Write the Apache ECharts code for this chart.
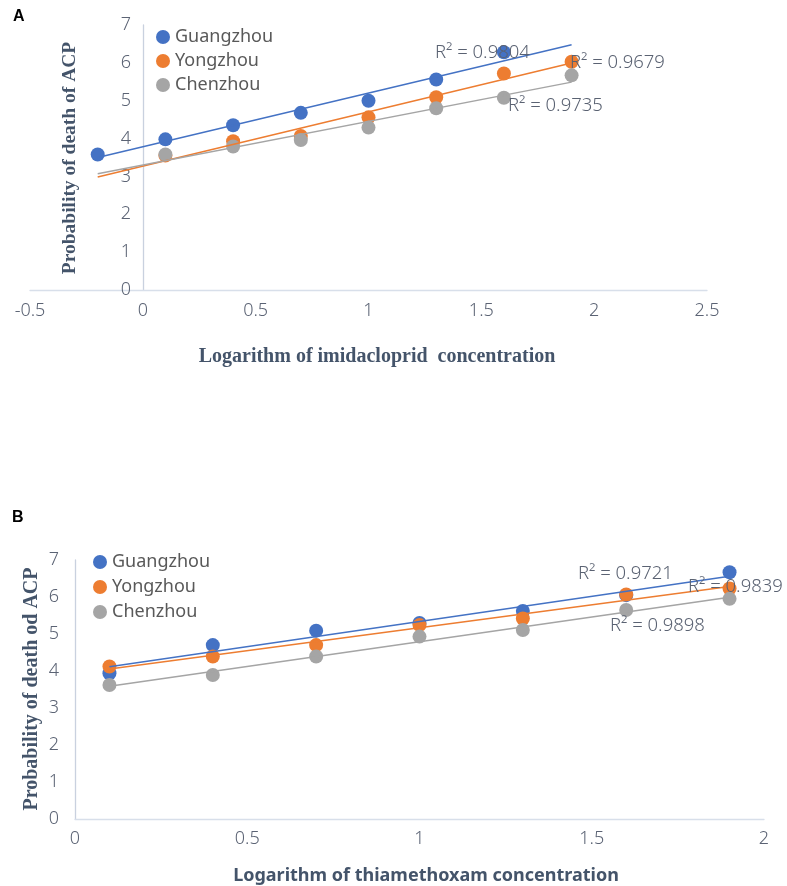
<!DOCTYPE html>
<html>
<head>
<meta charset="utf-8">
<script src="https://cdn.jsdelivr.net/npm/echarts@6/dist/echarts.min.js"></script>
<style>
  html, body { margin: 0; padding: 0; background: #fff; }
  #chart { width: 787px; height: 886px; }
</style>
</head>
<body>
<div id="chart"></div>
<script>
// Panel A: imidacloprid
const sites = ['Guangzhou', 'Yongzhou', 'Chenzhou'];
const colors = ['#4472C4', '#ED7D31', '#A5A5A5'];

const imiGuangzhouX = [-0.2, 0.1, 0.4, 0.7, 1.0, 1.3, 1.6];
const imiGuangzhouY = [3.58, 3.98, 4.35, 4.68, 5.00, 5.56, 6.28];
const imiYongzhouX = [0.1, 0.4, 0.7, 1.0, 1.3, 1.6, 1.9];
const imiYongzhouY = [3.55, 3.93, 4.07, 4.56, 5.09, 5.72, 6.03];
const imiChenzhouX = [0.1, 0.4, 0.7, 1.0, 1.3, 1.6, 1.9];
const imiChenzhouY = [3.58, 3.79, 3.96, 4.29, 4.80, 5.08, 5.67];
const imiTrendRange = [-0.2, 1.9];
const imiR2 = ['R² = 0.9804', 'R² = 0.9679', 'R² = 0.9735'];

// Panel B: thiamethoxam
const thiX = [0.1, 0.4, 0.7, 1.0, 1.3, 1.6, 1.9];
const thiGuangzhouY = [3.94, 4.70, 5.09, 5.30, 5.62, 6.05, 6.67];
const thiYongzhouY = [4.12, 4.39, 4.70, 5.24, 5.42, 6.07, 6.23];
const thiChenzhouY = [3.62, 3.89, 4.39, 4.93, 5.11, 5.65, 5.95];
const thiTrendRange = [0.1, 1.9];
const thiR2 = ['R² = 0.9721', 'R² = 0.9839', 'R² = 0.9898'];

const imiX = [imiGuangzhouX, imiYongzhouX, imiChenzhouX];
const imiY = [imiGuangzhouY, imiYongzhouY, imiChenzhouY];
const thiY = [thiGuangzhouY, thiYongzhouY, thiChenzhouY];

// least-squares linear trend evaluated at the ends of a range
function trend(xs, ys, range) {
  const n = xs.length;
  const mx = xs.reduce((a, b) => a + b, 0) / n;
  const my = ys.reduce((a, b) => a + b, 0) / n;
  let sxy = 0, sxx = 0;
  for (let i = 0; i < n; i++) {
    sxy += (xs[i] - mx) * (ys[i] - my);
    sxx += (xs[i] - mx) * (xs[i] - mx);
  }
  const b = sxy / sxx, a = my - b * mx;
  return range.map(x => [x, a + b * x]);
}
const zip = (xs, ys) => xs.map((x, i) => [x, ys[i]]);

const tickColor = '#5b6374';
const tickFont = { color: tickColor, fontSize: 18, fontFamily: 'Noto Sans', fontWeight: 300 };
const titleColor = '#44546A';

const series = [];
sites.forEach((name, i) => {
  series.push({
    name, type: 'scatter', xAxisIndex: 0, yAxisIndex: 0,
    symbolSize: 14, itemStyle: { color: colors[i], opacity: 1 },
    data: zip(imiX[i], imiY[i]), z: 2
  });
});
sites.forEach((name, i) => {
  series.push({
    name, type: 'scatter', xAxisIndex: 1, yAxisIndex: 1,
    symbolSize: 14, itemStyle: { color: colors[i], opacity: 1 },
    data: zip(thiX, thiY[i]), z: 2
  });
});
sites.forEach((name, i) => {
  series.push({
    name: name + ' linear (A)', type: 'line', xAxisIndex: 0, yAxisIndex: 0,
    showSymbol: false, silent: true, z: 3,
    lineStyle: { color: colors[i], width: 1.5 },
    data: trend(imiX[i], imiY[i], imiTrendRange)
  });
  series.push({
    name: name + ' linear (B)', type: 'line', xAxisIndex: 1, yAxisIndex: 1,
    showSymbol: false, silent: true, z: 3,
    lineStyle: { color: colors[i], width: 1.5 },
    data: trend(thiX, thiY[i], thiTrendRange)
  });
});

function axisStyle(lineColor) {
  return {
    axisLine: { show: true, onZero: false, lineStyle: { color: lineColor, width: 1.3 } },
    axisTick: { show: false },
    splitLine: { show: false }
  };
}

const legendText = { color: '#595959', fontSize: 18, fontFamily: 'Noto Sans', lineHeight: 17 };

const r2Style = (text, x, y) => ({
  type: 'text', x, y, z: 10,
  style: { text, fill: '#5a6272', fontSize: 18.5, fontFamily: 'Noto Sans', fontWeight: 300,
           textAlign: 'left', textVerticalAlign: 'middle' }
});

const option = {
  animation: false,
  backgroundColor: '#fff',
  grid: [
    { left: 30, right: 80, top: 25, bottom: 596 },
    { left: 75, right: 23, top: 560, bottom: 67 }
  ],
  xAxis: [
    Object.assign({ gridIndex: 0, type: 'value', min: -0.5, max: 2.5, interval: 0.5,
      axisLabel: Object.assign({ margin: 12 }, tickFont) }, axisStyle('#d8dfea')),
    Object.assign({ gridIndex: 1, type: 'value', min: 0, max: 2, interval: 0.5,
      axisLabel: Object.assign({ margin: 11 }, tickFont) }, axisStyle('#d8dfea'))
  ],
  yAxis: [
    // vertical axis crosses the horizontal one at x = 0 (113 px right of the grid's left edge)
    Object.assign({ gridIndex: 0, type: 'value', min: 0, max: 7, interval: 1, offset: -113,
      axisLabel: Object.assign({ margin: 12 }, tickFont) }, axisStyle('#c9d1df')),
    Object.assign({ gridIndex: 1, type: 'value', min: 0, max: 7, interval: 1,
      axisLabel: Object.assign({ margin: 16 }, tickFont) }, axisStyle('#c9d1df'))
  ],
  legend: [
    { data: sites, orient: 'vertical', left: 156, top: 28, padding: 0, itemWidth: 14, itemHeight: 14,
      itemGap: 6, icon: 'circle', textStyle: legendText, selectedMode: false },
    { data: sites, orient: 'vertical', left: 93, top: 553, padding: 0, itemWidth: 14, itemHeight: 14,
      itemGap: 7, icon: 'circle', textStyle: legendText, selectedMode: false }
  ],
  graphic: [
    { type: 'text', x: 13, y: 9, style: { text: 'A', fill: '#000', fontSize: 16, fontWeight: 'bold', fontFamily: 'Liberation Sans' } },
    { type: 'text', x: 12, y: 510, style: { text: 'B', fill: '#000', fontSize: 16, fontWeight: 'bold', fontFamily: 'Liberation Sans' } },
    { type: 'text', x: 70, y: 158, rotation: Math.PI / 2,
      style: { text: 'Probability of death of ACP', fill: titleColor, fontSize: 19.5, fontWeight: 'bold',
               fontFamily: 'Liberation Serif', textAlign: 'center', textVerticalAlign: 'middle' } },
    { type: 'text', x: 377, y: 357,
      style: { text: 'Logarithm of imidacloprid  concentration', fill: titleColor, fontSize: 20, fontWeight: 'bold',
               fontFamily: 'Liberation Serif', textAlign: 'center', textVerticalAlign: 'middle' } },
    { type: 'text', x: 32, y: 689, rotation: Math.PI / 2,
      style: { text: 'Probability of death od ACP', fill: titleColor, fontSize: 20, fontWeight: 'bold',
               fontFamily: 'Liberation Serif', textAlign: 'center', textVerticalAlign: 'middle' } },
    { type: 'text', x: 426, y: 876,
      style: { text: 'Logarithm of thiamethoxam concentration', fill: titleColor, fontSize: 18, fontWeight: 'bold',
               fontFamily: 'Noto Sans', textAlign: 'center', textVerticalAlign: 'middle' } },
    r2Style(imiR2[0], 435, 53),
    r2Style(imiR2[1], 570, 63),
    r2Style(imiR2[2], 508, 106),
    r2Style(thiR2[0], 578, 574),
    r2Style(thiR2[1], 688, 587),
    r2Style(thiR2[2], 610, 626)
  ],
  series
};

const chart = echarts.init(document.getElementById('chart'), null, { renderer: 'canvas' });
chart.setOption(option);
</script>
</body>
</html>
